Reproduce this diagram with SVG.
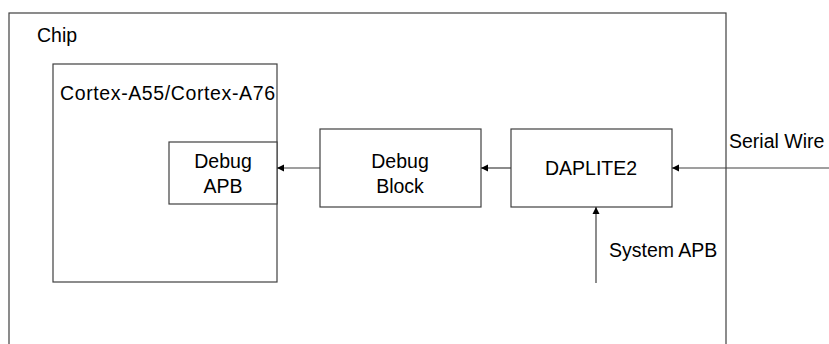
<svg xmlns="http://www.w3.org/2000/svg" width="829" height="344" viewBox="0 0 829 344">
<style>
.box{fill:#fff;stroke:#404040;stroke-width:1.2}
.lbl{font-family:"Liberation Sans",Arial,sans-serif;font-size:19.5px;fill:#000}
.c{text-anchor:middle}
.wire{stroke:#404040;stroke-width:1.2;fill:none}
</style>
<defs>
<marker id="ah" viewBox="0 0 10 10" refX="10" refY="5" markerWidth="7" markerHeight="9" markerUnits="userSpaceOnUse" orient="auto">
<path d="M0,0 L10,5 L0,10 Z" fill="#000"/>
</marker>
</defs>
<rect width="829" height="344" fill="#fff"/>
<g id="chip">
<rect class="box" x="9" y="13" width="717" height="345"/>
<text class="lbl" x="37" y="42">Chip</text>
</g>
<g id="cortex">
<rect class="box" x="53" y="64" width="224" height="218"/>
<text class="lbl" x="60" y="100" textLength="215">Cortex-A55/Cortex-A76</text>
</g>
<g id="debug-apb">
<rect class="box" x="169" y="142" width="108" height="62"/>
<text class="lbl c" x="223" y="168">Debug</text>
<text class="lbl c" x="223" y="193">APB</text>
</g>
<g id="debug-block">
<rect class="box" x="320" y="129" width="161" height="78"/>
<text class="lbl c" x="400" y="168">Debug</text>
<text class="lbl c" x="400" y="193">Block</text>
</g>
<g id="daplite2">
<rect class="box" x="511" y="129" width="161" height="78"/>
<text class="lbl c" x="591" y="175">DAPLITE2</text>
</g>
<g id="labels">
<text class="lbl" x="729" y="148">Serial Wire</text>
<text class="lbl" x="609" y="257">System APB</text>
</g>
<g id="connectors">
<line class="wire" x1="320" y1="168" x2="277" y2="168" marker-end="url(#ah)"/>
<line class="wire" x1="511" y1="168" x2="481" y2="168" marker-end="url(#ah)"/>
<line class="wire" x1="829" y1="168" x2="672" y2="168" marker-end="url(#ah)"/>
<line class="wire" x1="596" y1="283" x2="596" y2="207" marker-end="url(#ah)"/>
</g>
</svg>
